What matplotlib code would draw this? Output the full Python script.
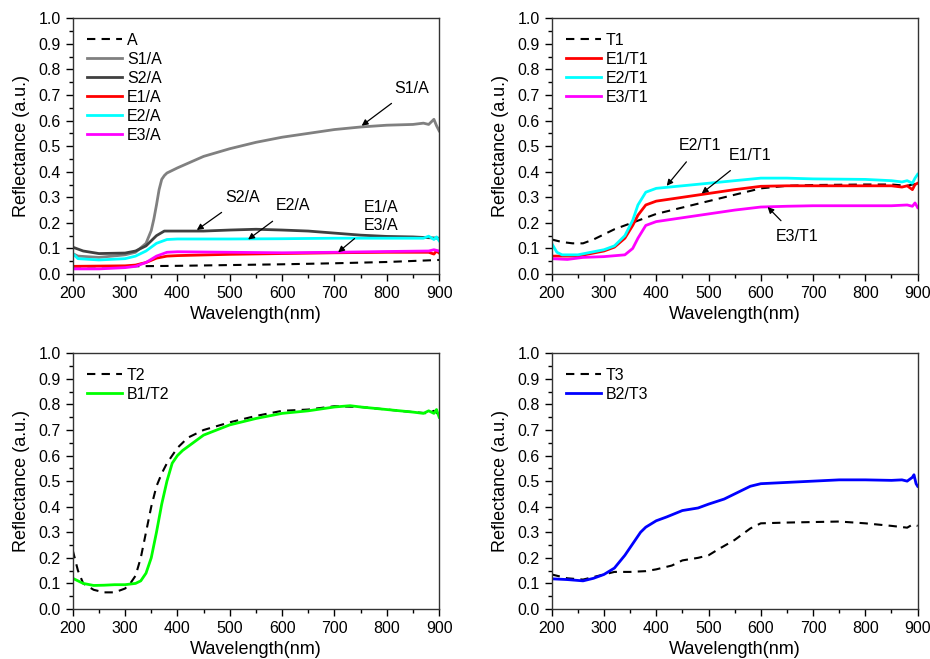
import matplotlib.pyplot as plt
from matplotlib.ticker import MultipleLocator

plt.rcParams['font.family'] = ['Liberation Sans', 'DejaVu Sans']

# ---- panel (a): A series ----
wl_A = [200, 300, 400, 500, 600, 700, 800, 900]
A = [0.03, 0.03, 0.032, 0.035, 0.038, 0.042, 0.047, 0.055]

wl_S1A = [200, 210, 250, 300, 320, 340, 350, 355, 360, 365, 370, 375, 380, 390, 400, 450,
          500, 550, 600, 650, 700, 750, 800, 850, 870, 880, 890, 895, 900]
S1A = [0.08, 0.07, 0.065, 0.075, 0.085, 0.12, 0.17, 0.215, 0.27, 0.33, 0.37, 0.385,
       0.395, 0.405, 0.415, 0.46, 0.49, 0.515, 0.535, 0.55, 0.565, 0.575, 0.582, 0.585,
       0.59, 0.585, 0.605, 0.58, 0.56]

wl_S2A = [200, 220, 250, 300, 320, 340, 360, 375, 400, 450, 500, 550, 600, 650, 700,
          750, 800, 850, 900]
S2A = [0.105, 0.09, 0.08, 0.082, 0.09, 0.11, 0.15, 0.168, 0.168, 0.168, 0.172, 0.175,
       0.172, 0.168, 0.16, 0.152, 0.147, 0.145, 0.14]

wl_E1A = [200, 300, 320, 340, 360, 380, 400, 500, 600, 700, 800, 880, 890, 895, 900]
E1A = [0.03, 0.032, 0.035, 0.045, 0.062, 0.07, 0.072, 0.077, 0.08, 0.083, 0.085, 0.085,
       0.078, 0.09, 0.082]

wl_E2A = [200, 210, 250, 300, 320, 340, 360, 380, 400, 500, 600, 700, 800, 870, 880,
          890, 895, 900]
E2A = [0.08, 0.06, 0.055, 0.06, 0.07, 0.09, 0.12, 0.135, 0.137, 0.137, 0.138, 0.14, 0.14,
       0.14, 0.148, 0.135, 0.145, 0.13]

wl_E3A = [200, 250, 300, 320, 340, 360, 380, 400, 500, 600, 700, 800, 880, 890, 900]
E3A = [0.02, 0.02, 0.025, 0.03, 0.045, 0.07, 0.085, 0.087, 0.085, 0.083, 0.085, 0.088,
       0.09, 0.095, 0.09]

# ---- panel (b): T1 series ----
wl_T1 = [200, 220, 240, 260, 280, 300, 320, 340, 360, 380, 400, 450, 500, 550, 600, 650,
         700, 800, 850, 880, 900]
T1 = [0.135, 0.125, 0.12, 0.12, 0.135, 0.155, 0.175, 0.19, 0.205, 0.22, 0.235, 0.26,
      0.285, 0.31, 0.335, 0.345, 0.348, 0.35, 0.35, 0.345, 0.355]

wl_E1T1 = [200, 250, 300, 320, 340, 355, 365, 380, 400, 450, 500, 550, 600, 650, 700,
           800, 850, 870, 880, 890, 895, 900]
E1T1 = [0.07, 0.07, 0.09, 0.105, 0.14, 0.19, 0.23, 0.27, 0.285, 0.3, 0.315, 0.33, 0.343,
        0.345, 0.345, 0.345, 0.345, 0.34, 0.345, 0.33, 0.35, 0.355]

wl_E2T1 = [200, 210, 220, 250, 300, 320, 340, 355, 365, 380, 400, 450, 500, 550, 600,
           650, 700, 800, 850, 870, 880, 890, 895, 900]
E2T1 = [0.12, 0.085, 0.075, 0.075, 0.095, 0.11, 0.15, 0.21, 0.27, 0.32, 0.335, 0.345,
        0.355, 0.365, 0.375, 0.375, 0.372, 0.37, 0.365, 0.36, 0.365, 0.355, 0.375, 0.39]

wl_E3T1 = [200, 230, 260, 300, 340, 355, 365, 380, 400, 450, 500, 550, 600, 650, 700,
           800, 850, 880, 890, 895, 900]
E3T1 = [0.06, 0.057, 0.065, 0.068, 0.075, 0.1, 0.14, 0.19, 0.205, 0.22, 0.235, 0.25,
        0.262, 0.265, 0.267, 0.267, 0.267, 0.27, 0.265, 0.278, 0.26]

# ---- panel (c): T2 series ----
wl_T2 = [200, 210, 220, 240, 260, 280, 300, 310, 320, 330, 340, 350, 360, 370, 380, 400,
         420, 450, 500, 550, 600, 650, 700, 750, 800, 850, 880, 890, 900]
T2 = [0.23, 0.15, 0.1, 0.075, 0.065, 0.065, 0.08, 0.1, 0.13, 0.2, 0.3, 0.4, 0.48, 0.53,
      0.57, 0.63, 0.67, 0.7, 0.73, 0.755, 0.775, 0.78, 0.793, 0.79, 0.78, 0.77, 0.765,
      0.775, 0.76]

wl_B1T2 = [200, 220, 240, 260, 280, 300, 320, 330, 340, 350, 360, 370, 380, 390, 400,
           410, 450, 500, 550, 600, 650, 700, 730, 750, 800, 850, 870, 880, 890, 895, 900]
B1T2 = [0.12, 0.1, 0.092, 0.093, 0.095, 0.095, 0.1, 0.11, 0.14, 0.2, 0.3, 0.41, 0.5,
        0.57, 0.6, 0.62, 0.68, 0.72, 0.745, 0.765, 0.775, 0.79, 0.795, 0.79, 0.78, 0.77,
        0.765, 0.775, 0.765, 0.78, 0.75]

# ---- panel (d): T3 series ----
wl_T3 = [200, 230, 260, 280, 300, 320, 350, 380, 400, 430, 450, 480, 500, 520, 550, 580,
         600, 650, 700, 750, 800, 850, 880, 890, 900]
T3 = [0.135, 0.12, 0.115, 0.125, 0.135, 0.145, 0.145, 0.148, 0.155, 0.17, 0.19, 0.2,
      0.21, 0.235, 0.27, 0.315, 0.335, 0.338, 0.34, 0.342, 0.335, 0.325, 0.318, 0.33, 0.325]

wl_B2T3 = [200, 230, 260, 280, 300, 320, 340, 360, 370, 380, 400, 420, 450, 480, 500,
           530, 560, 580, 600, 650, 700, 750, 800, 850, 870, 880, 890, 893, 897, 900]
B2T3 = [0.118, 0.115, 0.11, 0.12, 0.135, 0.16, 0.21, 0.27, 0.3, 0.32, 0.345, 0.36,
        0.385, 0.395, 0.41, 0.43, 0.46, 0.48, 0.49, 0.495, 0.5, 0.505, 0.505, 0.503,
        0.505, 0.5, 0.515, 0.525, 0.49, 0.48]

DASH = (0, (4, 3))


def style_axes(ax):
    ax.set_xlim(200, 900)
    ax.set_ylim(0, 1.0)
    ax.xaxis.set_major_locator(MultipleLocator(100))
    ax.xaxis.set_minor_locator(MultipleLocator(50))
    ax.yaxis.set_major_locator(MultipleLocator(0.1))
    ax.yaxis.set_minor_locator(MultipleLocator(0.05))
    ax.yaxis.set_major_formatter(plt.FuncFormatter(lambda v, p: f"{v:.1f}"))
    ax.tick_params(which='major', direction='out', length=5, width=1, labelsize=11.5,
                   top=False, right=False)
    ax.tick_params(which='minor', direction='out', length=3, width=1,
                   top=False, right=False)
    for s in ax.spines.values():
        s.set_linewidth(1.0)
        s.set_color('#333333')
    ax.set_xlabel('Wavelength(nm)', fontsize=13, labelpad=4)
    ax.set_ylabel('Reflectance (a.u.)', fontsize=13, labelpad=6)
    ax.legend(loc='upper left', frameon=False, fontsize=11.5, handlelength=2.2,
              labelspacing=0.25, borderaxespad=0.5, handletextpad=0.3)


def note(ax, text, xy, xytext, ha='center'):
    ax.annotate(text, xy=xy, xytext=xytext, fontsize=11.5, ha=ha, va='center',
                arrowprops=dict(arrowstyle='-|>', color='black', lw=0.9,
                                mutation_scale=9, shrinkA=6, shrinkB=0))


fig = plt.figure(figsize=(9.3, 6.59), dpi=100)
ax1 = fig.add_axes([0.0782, 0.5842, 0.394, 0.388])
ax2 = fig.add_axes([0.5932, 0.5842, 0.3935, 0.388])
ax3 = fig.add_axes([0.0782, 0.0759, 0.394, 0.388])
ax4 = fig.add_axes([0.5932, 0.0759, 0.3935, 0.388])

ax1.plot(wl_A, A, color='black', lw=1.5, ls=DASH, label='A')
ax1.plot(wl_S1A, S1A, color='#808080', lw=2, label='S1/A')
ax1.plot(wl_S2A, S2A, color='#404040', lw=2, label='S2/A')
ax1.plot(wl_E1A, E1A, color='#ff0000', lw=2, label='E1/A')
ax1.plot(wl_E2A, E2A, color='#00ffff', lw=2, label='E2/A')
ax1.plot(wl_E3A, E3A, color='#ff00ff', lw=2, label='E3/A')
style_axes(ax1)
note(ax1, 'S1/A', (752, 0.58), (848, 0.727))
note(ax1, 'S2/A', (437, 0.172), (525, 0.30))
note(ax1, 'E2/A', (535, 0.135), (621, 0.266))
note(ax1, 'E1/A\nE3/A', (707, 0.085), (789, 0.225))

ax2.plot(wl_T1, T1, color='black', lw=1.5, ls=DASH, label='T1')
ax2.plot(wl_E1T1, E1T1, color='#ff0000', lw=2, label='E1/T1')
ax2.plot(wl_E2T1, E2T1, color='#00ffff', lw=2, label='E2/T1')
ax2.plot(wl_E3T1, E3T1, color='#ff00ff', lw=2, label='E3/T1')
style_axes(ax2)
note(ax2, 'E2/T1', (420, 0.345), (484, 0.504))
note(ax2, 'E1/T1', (487, 0.315), (579, 0.465))
note(ax2, 'E3/T1', (613, 0.262), (669, 0.145))

ax3.plot(wl_T2, T2, color='black', lw=1.5, ls=DASH, label='T2')
ax3.plot(wl_B1T2, B1T2, color='#00ff00', lw=2, label='B1/T2')
style_axes(ax3)

ax4.plot(wl_T3, T3, color='black', lw=1.5, ls=DASH, label='T3')
ax4.plot(wl_B2T3, B2T3, color='#0000ff', lw=2, label='B2/T3')
style_axes(ax4)

fig.savefig('out.png', dpi=100)
